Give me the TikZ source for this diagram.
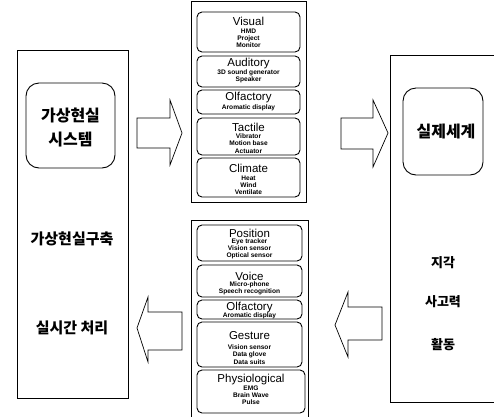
\documentclass[tikz,border=0pt]{standalone}
\usepackage{fontspec}
\setmainfont{Liberation Sans}
\newfontfamily\kr{Noto Sans CJK KR}
\begin{document}
\begin{tikzpicture}[x=1pt,y=-1pt,
  outerbox/.style={draw,line width=0.9pt},
  subbox/.style={draw,line width=0.9pt,rounded corners=5pt},
  bigbox/.style={draw,line width=0.9pt,rounded corners=13pt},
  blockarrow/.style={draw,line width=0.7pt,fill=white,line join=miter},
  ttl/.style={font=\fontsize{11.5}{12}\selectfont, inner sep=0},
  sml/.style={font=\fontsize{6.6}{7.2}\selectfont\bfseries, align=center, inner sep=0},
  krbig/.style={font=\kr\bfseries\fontsize{16}{24}\selectfont, align=center, inner sep=0},
  krmid/.style={font=\kr\bfseries\fontsize{15}{18}\selectfont, inner sep=0},
  krsml/.style={font=\kr\bfseries\fontsize{13}{16}\selectfont, inner sep=0},
]
\useasboundingbox (0,0) rectangle (494,416);
\clip (0,0) rectangle (494,416);

% left box
\draw[outerbox] (17,50) rectangle (128,398);
\draw[bigbox] (26,83) rectangle (115,168);
\node[krbig] (vrsys) at (70.5,127) {가상현실\\시스템};
\node[krmid] (vrbuild) at (72,239) {가상현실구축};
\node[krmid] (realtime) at (72,328) {실시간 처리};

% right box
\draw[outerbox] (390,55) rectangle (520,402);
\draw[bigbox] (403,88) rectangle (483,175);
\node[krbig] (realworld) at (446,131) {실제세계};
\node[krsml] (perc) at (443,263) {지각};
\node[krsml] (think) at (443,302) {사고력};
\node[krsml] (act) at (443,345) {활동};

% middle top box (outputs)
\draw[outerbox] (191,1) rectangle (306,202);
\draw[subbox] (197,12) rectangle (300,52);
\node[ttl] (visual) at (248.5,21) {Visual};
\node[sml] (visuals) at (248.5,38) {HMD\\Project\\Monitor};
\draw[subbox] (197,56) rectangle (300,87);
\node[ttl] (auditory) at (248.5,64) {Auditory};
\node[sml] (auditorys) at (248.5,76.5) {3D sound generator\\Speaker};
\draw[subbox] (197,90) rectangle (300,114);
\node[ttl] (olf1) at (248.5,98) {Olfactory};
\node[sml] (olf1s) at (248.5,108) {Aromatic display};
\draw[subbox] (197,118) rectangle (300,155);
\node[ttl] (tactile) at (248.5,127) {Tactile};
\node[sml] (tactiles) at (248.5,143.5) {Vibrator\\Motion base\\Actuator};
\draw[subbox] (197,158) rectangle (300,197);
\node[ttl] (climate) at (248.5,168) {Climate};
\node[sml] (climates) at (248.5,185) {Heat\\Wind\\Ventilate};

% middle bottom box (inputs)
\draw[outerbox] (191,220) rectangle (308,430);
\draw[subbox] (197,225) rectangle (302,261);
\node[ttl] (position) at (249.5,233) {Position};
\node[sml] (positions) at (249.5,249) {Eye tracker\\Vision sensor\\Optical sensor};
\draw[subbox] (197,265) rectangle (302,297);
\node[ttl] (voice) at (249.5,276) {Voice};
\node[sml] (voices) at (249.5,288.5) {Micro-phone\\Speech recognition};
\draw[subbox] (197,300) rectangle (302,319);
\node[ttl] (olf2) at (249.5,307.5) {Olfactory};
\node[sml] (olf2s) at (249.5,315.5) {Aromatic display};
\draw[subbox] (197,322) rectangle (302,367);
\node[ttl] (gesture) at (249.5,336) {Gesture};
\node[sml] (gestures) at (249.5,354.5) {Vision sensor\\Data glove\\Data suits};
\draw[subbox] (197,370) rectangle (305,413);
\node[ttl] (physio) at (251,380) {Physiological};
\node[sml] (physios) at (251,395.5) {EMG\\Brain Wave\\Pulse};

% block arrows
\draw[blockarrow] (137,118) -- (170,118) -- (170,100) -- (182,133) -- (170,165) -- (170,148) -- (137,148) -- cycle;
\draw[blockarrow] (341,118) -- (373,118) -- (373,100) -- (388,133) -- (373,167) -- (373,149) -- (341,149) -- cycle;
\draw[blockarrow] (382,307) -- (348,307) -- (348,292) -- (335,325) -- (348,357) -- (348,340) -- (382,340) -- cycle;
\draw[blockarrow] (182,312) -- (148,312) -- (148,297) -- (137,328) -- (148,362) -- (148,350) -- (182,350) -- cycle;
\end{tikzpicture}
\end{document}
